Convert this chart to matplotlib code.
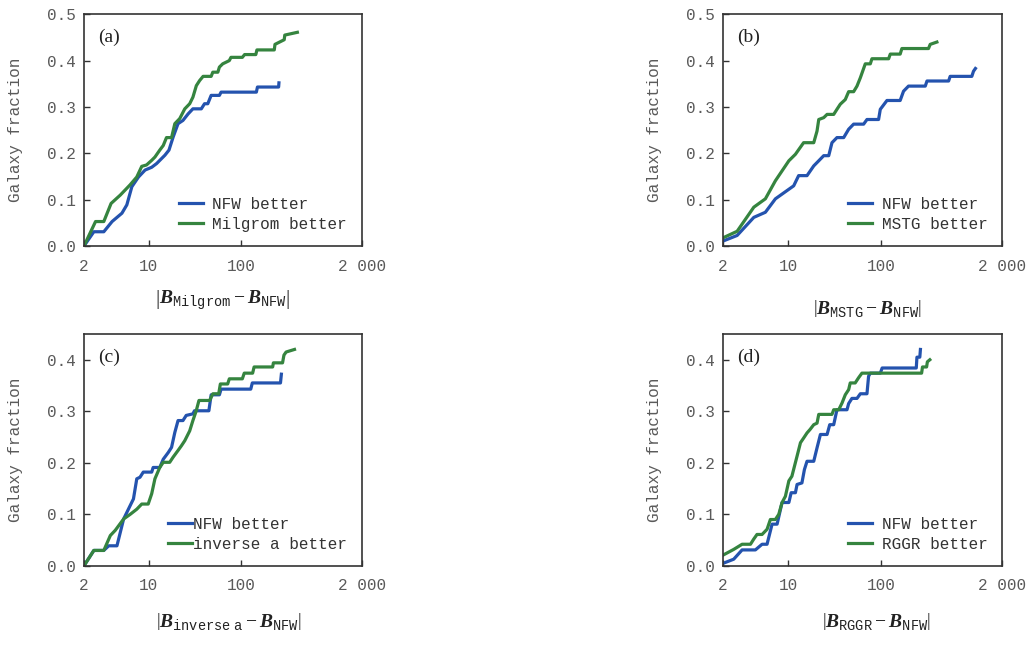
import matplotlib
matplotlib.use("Agg")
import matplotlib.pyplot as plt

plt.rcParams['font.family'] = ['Liberation Mono', 'DejaVu Sans']
plt.rcParams['mathtext.fontset'] = 'custom'
plt.rcParams['mathtext.it'] = 'Liberation Serif:italic:bold'
plt.rcParams['mathtext.rm'] = 'Liberation Serif'
plt.rcParams['mathtext.tt'] = 'Liberation Mono'

nfw_color = "#2453ae"
alt_color = "#35843f"
gray = "#5a5a5a"

xticks = [2, 10, 100, 2000]
xticklabels = ["2", "10", "100", "2 000"]

# (a) Milgrom
a_nfw_x = [2, 2.56, 3.28, 4.03, 5.15, 5.82, 6.59, 7.77, 9.16, 10.8, 12.2, 15.0, 16.6, 18.4, 20.8, 23.5,
           26.7, 30.1, 37.1, 40.2, 43.6, 47.4, 58.2, 60.7, 146, 150, 254, 256]
a_nfw_y = [0.0, 0.031, 0.031, 0.053, 0.071, 0.089, 0.128, 0.149, 0.164, 0.17, 0.178, 0.196, 0.207, 0.235,
           0.264, 0.271, 0.285, 0.296, 0.296, 0.307, 0.307, 0.325, 0.325, 0.332, 0.332, 0.343, 0.343, 0.352]
a_alt_x = [2, 2.67, 3.28, 3.93, 4.94, 6.3, 7.45, 8.43, 9.5, 10.8, 11.7, 13.2, 14.4, 15.6, 17.7, 19.2, 21.7,
           24.6, 27.8, 30.1, 32.8, 35.6, 38.8, 47.4, 49.4, 56, 58.2, 63.2, 74.5, 77.6, 103, 109, 144, 148,
           228, 232, 292, 296, 405]
a_alt_y = [0.0, 0.053, 0.053, 0.092, 0.11, 0.132, 0.149, 0.172, 0.175, 0.185, 0.192, 0.207, 0.217, 0.234,
           0.234, 0.264, 0.275, 0.296, 0.307, 0.321, 0.346, 0.357, 0.366, 0.366, 0.375, 0.375, 0.386, 0.393,
           0.4, 0.407, 0.407, 0.413, 0.413, 0.423, 0.423, 0.435, 0.445, 0.455, 0.461]

# (b) MSTG
b_nfw_x = [2, 2.83, 4.28, 5.70, 7.31, 11.5, 13.0, 16.0, 18.9, 21.4, 24.2, 27.4, 29.7, 33.6, 39.7, 44.9,
           50.8, 65.1, 70.7, 94.3, 98.4, 116, 161, 175, 198, 300, 313, 535, 556, 951, 991, 1040]
b_nfw_y = [0.011, 0.023, 0.062, 0.073, 0.102, 0.130, 0.152, 0.152, 0.173, 0.184, 0.195, 0.195, 0.223,
           0.234, 0.234, 0.252, 0.263, 0.263, 0.273, 0.273, 0.295, 0.314, 0.314, 0.334, 0.345, 0.345,
           0.356, 0.356, 0.366, 0.366, 0.377, 0.383]
b_alt_x = [2, 2.83, 4.28, 5.70, 7.31, 10.2, 12.0, 14.7, 18.9, 20.5, 21.4, 24.2, 26.3, 31.0, 33.6, 36.5,
           41.3, 44.9, 50.8, 55.2, 60.0, 67.8, 76.8, 80.0, 121, 126, 161, 168, 325, 339, 400]
b_alt_y = [0.018, 0.032, 0.084, 0.102, 0.141, 0.184, 0.198, 0.223, 0.223, 0.248, 0.273, 0.277, 0.284,
           0.284, 0.295, 0.306, 0.316, 0.333, 0.333, 0.345, 0.363, 0.393, 0.393, 0.404, 0.404, 0.414,
           0.414, 0.426, 0.426, 0.435, 0.44]

# (c) inverse a
c_nfw_x = [2, 2.56, 3.28, 3.71, 4.55, 5.37, 6.32, 6.86, 7.45, 8.07, 8.76, 10.8, 11.2, 13.2, 14.4, 16.3,
           17.7, 19.2, 20.8, 23.5, 25.5, 30.1, 31.3, 44.8, 47.4, 58.2, 60.7, 127, 132, 266, 272]
c_nfw_y = [0.0, 0.03, 0.03, 0.039, 0.039, 0.091, 0.117, 0.13, 0.169, 0.172, 0.182, 0.182, 0.191, 0.191,
           0.207, 0.22, 0.23, 0.259, 0.282, 0.282, 0.292, 0.295, 0.301, 0.301, 0.332, 0.332, 0.343, 0.343,
           0.355, 0.355, 0.372]
c_alt_x = [2, 2.56, 3.28, 3.86, 4.36, 5.37, 6.32, 7.45, 8.43, 9.9, 10.8, 11.7, 13.2, 14.4, 16.9, 18.4,
           20.8, 22.6, 24.6, 27.8, 30.1, 32.7, 35, 45.6, 49.5, 57.2, 59.6, 71.5, 74.5, 103, 108, 133, 138,
           219, 223, 280, 290, 306, 377]
c_alt_y = [0.0, 0.03, 0.03, 0.059, 0.069, 0.091, 0.1, 0.11, 0.12, 0.12, 0.14, 0.169, 0.191, 0.201, 0.201,
           0.211, 0.224, 0.233, 0.243, 0.262, 0.282, 0.301, 0.321, 0.321, 0.334, 0.334, 0.353, 0.353,
           0.363, 0.363, 0.374, 0.374, 0.386, 0.386, 0.394, 0.394, 0.409, 0.415, 0.42]

# (d) RGGR
d_nfw_x = [2, 2.60, 3.20, 4.45, 5.25, 5.94, 6.73, 7.62, 8.62, 10.2, 10.8, 12.0, 12.5, 14.1, 15.0, 16.0,
           18.9, 20.5, 22.3, 26.3, 28.1, 31.0, 33.6, 43.1, 44.9, 48.7, 55.2, 60.0, 70.7, 73.6, 76.8, 98.4,
           103, 240, 244, 262, 266]
d_nfw_y = [0.005, 0.013, 0.031, 0.031, 0.042, 0.042, 0.081, 0.081, 0.123, 0.123, 0.142, 0.142, 0.158,
           0.161, 0.187, 0.203, 0.203, 0.229, 0.255, 0.255, 0.274, 0.274, 0.303, 0.303, 0.315, 0.325,
           0.325, 0.334, 0.334, 0.368, 0.374, 0.374, 0.384, 0.384, 0.405, 0.405, 0.42]
d_alt_x = [2, 2.60, 3.20, 3.94, 4.27, 4.63, 5.25, 5.94, 6.45, 7.30, 7.94, 8.62, 9.36, 10.2, 11.0, 12.5,
           13.6, 14.7, 16.0, 17.3, 18.9, 20.5, 21.4, 29.7, 31.0, 35.1, 38.1, 41.3, 44.9, 46.7, 52.8, 57.4,
           62.4, 274, 280, 310, 316, 336]
d_alt_y = [0.021, 0.032, 0.042, 0.042, 0.052, 0.061, 0.061, 0.071, 0.09, 0.09, 0.1, 0.123, 0.135, 0.165,
           0.174, 0.213, 0.239, 0.248, 0.258, 0.265, 0.274, 0.277, 0.294, 0.294, 0.303, 0.303, 0.316,
           0.332, 0.342, 0.355, 0.355, 0.365, 0.374, 0.374, 0.386, 0.386, 0.396, 0.40]

panels = [
    ("(a)", "Milgrom", a_nfw_x, a_nfw_y, a_alt_x, a_alt_y, "Milgrom better", 0.5),
    ("(b)", "MSTG", b_nfw_x, b_nfw_y, b_alt_x, b_alt_y, "MSTG better", 0.5),
    ("(c)", r"inverse\ a", c_nfw_x, c_nfw_y, c_alt_x, c_alt_y, "inverse a better", 0.45),
    ("(d)", "RGGR", d_nfw_x, d_nfw_y, d_alt_x, d_alt_y, "RGGR better", 0.45),
]
rects = [[0.081, 0.619, 0.268, 0.359], [0.698, 0.619, 0.269, 0.359],
         [0.081, 0.124, 0.268, 0.359], [0.698, 0.124, 0.269, 0.359]]
xlab_pos = [(0.5, -0.185), (0.52, -0.225), (0.52, -0.195), (0.55, -0.195)]

fig = plt.figure(figsize=(10.36, 6.46), dpi=100)

for i, (tag, name, nx, ny, ax_, ay_, altlabel, ytop) in enumerate(panels):
    ax = fig.add_axes(rects[i])
    ax.plot(nx, ny, color=nfw_color, lw=2.3, label="NFW better")
    ax.plot(ax_, ay_, color=alt_color, lw=2.3, label=altlabel)
    ax.set_xscale("log")
    ax.set_xlim(2, 2000)
    ax.set_ylim(0, ytop)
    ax.set_xticks(xticks)
    ax.set_xticklabels(xticklabels)
    ax.minorticks_off()
    ax.set_yticks([0, 0.1, 0.2, 0.3, 0.4] + ([0.5] if ytop >= 0.5 else []))
    ax.set_yticklabels(["%.1f" % v for v in ax.get_yticks()])
    ax.tick_params(direction="in", length=4, width=1, colors="#333333", labelcolor=gray,
                   labelsize=11.5, pad=6, top=False, right=False)
    ax.tick_params(axis="x", pad=9)
    for s in ax.spines.values():
        s.set_color("#333333")
        s.set_linewidth(1.2)
    ax.set_ylabel("Galaxy fraction", fontsize=11.5, color=gray)
    ax.yaxis.set_label_coords(-0.22, 0.5)
    ax.set_xlabel(r"$\left|B_{\mathtt{%s}}-B_{\mathtt{NFW}}\right|$" % name, fontsize=14, color="#222222")
    ax.xaxis.set_label_coords(*xlab_pos[i])
    ax.text(0.05, 0.9, tag, transform=ax.transAxes, fontsize=14, family="Liberation Serif",
            color="#222222", va="center")
    ax.legend(loc="lower right", frameon=False, fontsize=11.5, handlelength=1.5,
              handletextpad=0.6 if i != 2 else 0.1, labelspacing=0.3, labelcolor="#333333")

plt.savefig("out.png", dpi=100)
